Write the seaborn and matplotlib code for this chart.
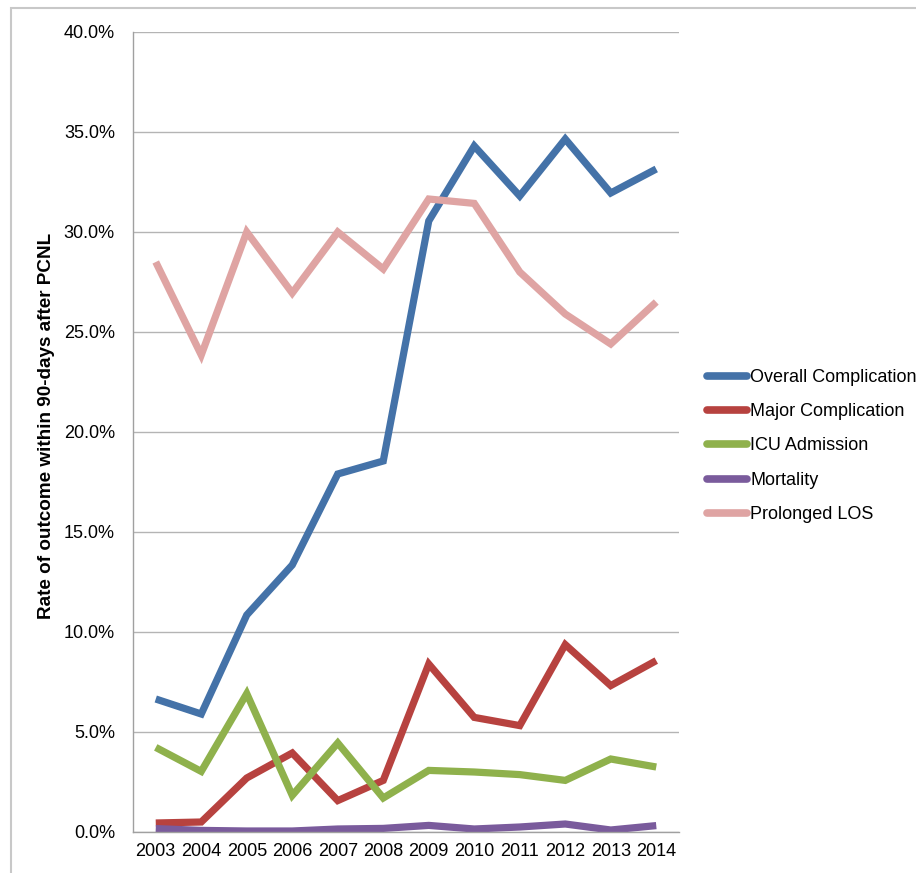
import matplotlib
matplotlib.use('Agg')

import numpy as np
import pandas as pd
import matplotlib.pyplot as plt
import seaborn as sns
from matplotlib.patches import Rectangle
from matplotlib.ticker import FuncFormatter, FixedLocator

years = ['2003', '2004', '2005', '2006', '2007', '2008',
         '2009', '2010', '2011', '2012', '2013', '2014']

overall = [6.65, 5.9, 10.85, 13.35, 17.9, 18.55, 30.55, 34.3, 31.8, 34.65, 31.95, 33.15]
major = [0.45, 0.5, 2.7, 3.95, 1.57, 2.58, 8.4, 5.73, 5.32, 9.37, 7.32, 8.57]
icu = [4.23, 3.03, 6.92, 1.83, 4.45, 1.7, 3.08, 3.0, 2.87, 2.58, 3.65, 3.25]
mortality = [0.17, 0.08, 0.05, 0.05, 0.15, 0.18, 0.33, 0.15, 0.25, 0.4, 0.1, 0.32]
prolonged = [28.5, 23.85, 30.0, 26.95, 30.0, 28.15, 31.65, 31.43, 28.0, 25.9, 24.4, 26.5]

series = ['Overall Complication', 'Major Complication', 'ICU Admission',
          'Mortality', 'Prolonged LOS']
colors = ['#4472A8', '#B7423F', '#8FB14C', '#7A5B9C', '#DFA4A3']

rows = []
for name, vals in zip(series, [overall, major, icu, mortality, prolonged]):
    for i, v in enumerate(vals):
        rows.append({'idx': i, 'rate': v, 'outcome': name})
df = pd.DataFrame(rows)

sns.set_style('white')
plt.rcParams['font.family'] = ['Liberation Sans', 'DejaVu Sans']
plt.rcParams['text.color'] = 'black'
plt.rcParams['axes.labelcolor'] = 'black'
plt.rcParams['xtick.color'] = 'black'
plt.rcParams['ytick.color'] = 'black'

fig = plt.figure(figsize=(9.16, 8.73), dpi=100)
ax = fig.add_axes([133 / 916, 1 - 832 / 873, (679 - 133) / 916, 800 / 873])

# outer chart frame
fig.patches.append(Rectangle((11 / 916, -0.1), 1.2, 1 - 8 / 873 + 0.1,
                             transform=fig.transFigure, fill=False,
                             edgecolor='#C8C8C8', linewidth=1.5, zorder=0))

sns.lineplot(data=df, x='idx', y='rate', hue='outcome', hue_order=series,
             palette=colors, linewidth=5.2, ax=ax, legend=True,
             solid_capstyle='butt', solid_joinstyle='miter')

ax.set_xlim(-0.5, 11.5)
ax.set_ylim(0, 40)
ax.set_yticks(np.arange(0, 41, 5))
ax.yaxis.set_major_formatter(FuncFormatter(lambda v, p: '%.1f%%' % v))
ax.xaxis.set_major_locator(FixedLocator(range(len(years))))
ax.set_xticklabels(years)
ax.xaxis.set_minor_locator(FixedLocator(np.arange(-0.5, 12, 1)))
ax.tick_params(axis='x', which='major', length=0, pad=8, labelsize=13)
ax.tick_params(axis='x', which='minor', length=5, color='#A0A0A0', width=1)
ax.tick_params(axis='y', length=5, color='#A0A0A0', width=1, labelsize=13, pad=8)

ax.grid(axis='y', color='#B4B4B4', linewidth=1)
ax.set_axisbelow(True)
for s in ['top', 'right']:
    ax.spines[s].set_visible(False)
for s in ['left', 'bottom']:
    ax.spines[s].set_color('#A0A0A0')
    ax.spines[s].set_linewidth(1)

ax.set_xlabel('')
ax.set_ylabel('Rate of outcome within 90-days after PCNL', fontsize=13.6,
              fontweight='bold')
ax.yaxis.set_label_coords(-0.143, 0.508)

leg = ax.legend(loc='center left', bbox_to_anchor=(707 / 916, 1 - 446 / 873),
                bbox_transform=fig.transFigure, frameon=False, fontsize=13,
                handlelength=2.2, handletextpad=0.2, labelspacing=0.96,
                borderpad=0, borderaxespad=0)
for line in leg.get_lines():
    line.set_linewidth(5.5)
    line.set_solid_capstyle('round')

fig.savefig('out.png', dpi=100)
